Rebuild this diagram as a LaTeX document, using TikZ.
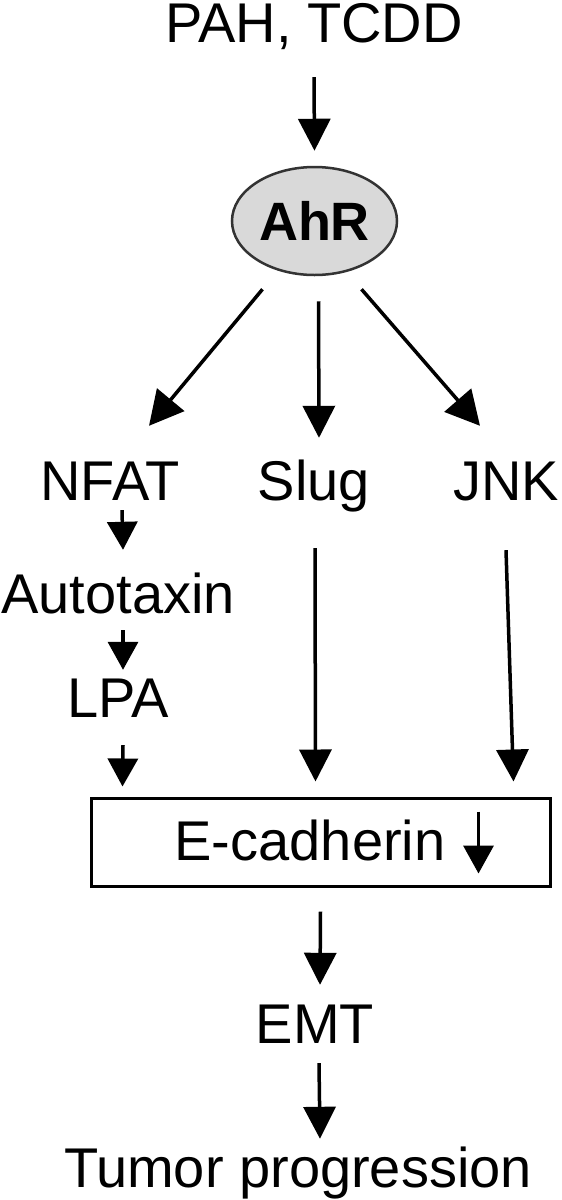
\documentclass[tikz,border=0pt]{standalone}
\usepackage{fontspec}
\setmainfont{Liberation Sans}
\usetikzlibrary{arrows.meta}
\usetikzlibrary{shapes.geometric}

\begin{document}
\begin{tikzpicture}[x=1pt, y=-1pt,
    lbl/.style={inner sep=0pt, anchor=base, text height=40pt, text depth=12pt,
        font=\fontsize{56}{60}\selectfont},
    arr/.style={line width=3.5pt, -{Triangle[length=32pt,width=32pt]}},
    darr/.style={line width=3.5pt, -{Triangle[length=34pt,width=35pt]}},
    sarr/.style={line width=3.5pt, -{Triangle[length=28pt,width=30pt]}}]
        \useasboundingbox (0,0) rectangle (562,1200);

        % top and receptor
        \node[lbl] (src) at (314,42) {PAH, TCDD};
        \node[draw=black!80, line width=2.5pt, ellipse, fill=gray!30, inner sep=0pt,
            minimum width=165pt, minimum height=108pt,
            font=\fontsize{54}{58}\selectfont\bfseries] (ahr) at (314.5,221) {AhR};

        % three branches
        \node[lbl] (nfat) at (110,500) {NFAT};
        \node[lbl] (slug) at (314,500) {Slug};
        \node[lbl] (jnk) at (506,500) {JNK};
        \node[lbl] (atx) at (118,613) {Autotaxin};
        \node[lbl] (lpa) at (118,717) {LPA};

        % E-cadherin box
        \node[draw, line width=3pt, minimum width=459pt, minimum height=88pt] (box) at (320.5,842) {};
        \node[lbl] (ecad) at (310,860) {E-cadherin};

        \node[lbl] (emt) at (315,1043) {EMT};
        \node[lbl] (tumor) at (298,1187) {Tumor progression};

        \draw[arr] ([yshift=-23pt]src.south) -- ([yshift=15pt]ahr.north);
        \draw[darr] ([xshift=-52pt,yshift=-13pt]ahr.south) -- ([xshift=39pt,yshift=34pt]nfat.north);
        \draw[arr] ([xshift=4pt,yshift=-25pt]ahr.south) -- ([xshift=5pt,yshift=22pt]slug.north);
        \draw[darr] ([xshift=47pt,yshift=-13pt]ahr.south) -- ([xshift=-26pt,yshift=34pt]jnk.north);

        \draw[sarr] ([xshift=12pt,yshift=2pt]nfat.south) -- ([xshift=5pt,yshift=23pt]atx.north);
        \draw[sarr] ([xshift=5pt,yshift=-5pt]atx.south) -- ([xshift=5pt,yshift=7pt]lpa.north);
        \draw[sarr] ([xshift=5pt,yshift=-16pt]lpa.south) -- ([xshift=33pt,yshift=10pt]box.north west);
        \draw[arr] ([xshift=1pt,yshift=-36pt]slug.south) -- ([xshift=-5pt,yshift=15pt]box.north);
        \draw[arr] ([yshift=-38pt]jnk.south) -- ([xshift=-38pt,yshift=15pt]box.north east);
        \draw[sarr] ([xshift=-73pt,yshift=-15pt]box.north east) -- ([xshift=-73pt,yshift=14pt]box.south east);

        \draw[arr] ([yshift=-24pt]box.south) -- ([xshift=5pt,yshift=18pt]emt.north);
        \draw[arr] ([xshift=4pt,yshift=-8pt]emt.south) -- ([xshift=22pt,yshift=8pt]tumor.north);
    \end{tikzpicture}
\end{document}
